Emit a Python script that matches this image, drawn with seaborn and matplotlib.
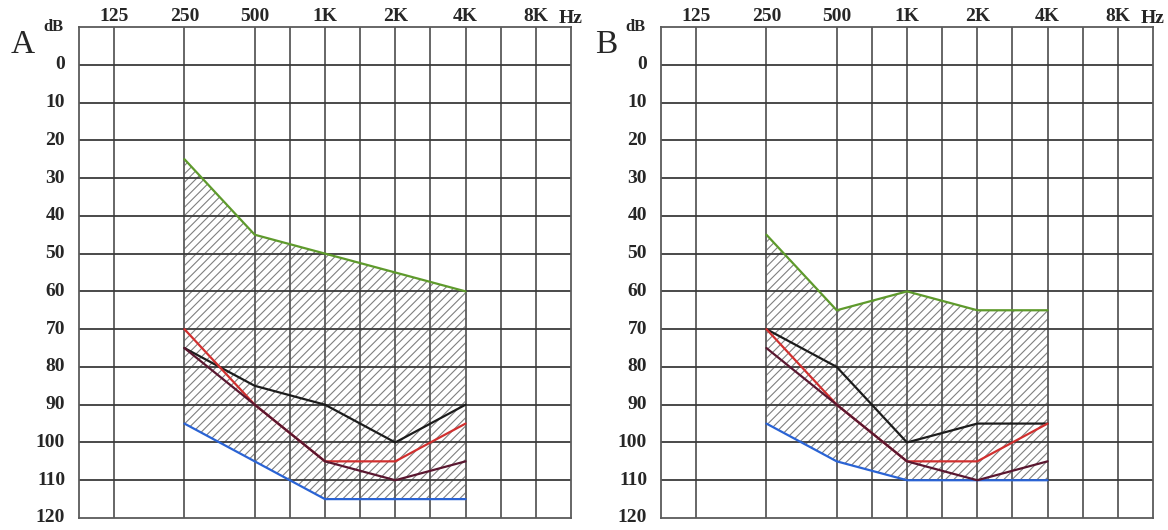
import pandas as pd
import numpy as np
import matplotlib
matplotlib.use("Agg")
import matplotlib.pyplot as plt
import seaborn as sns

# grid positions: 125 -> 1, 250 -> 3, 500 -> 5, 1K -> 7, 2K -> 9, 4K -> 11, 8K -> 13
freq_labels = ["125", "250", "500", "1K", "2K", "4K", "8K"]
freq_pos = [1, 3, 5, 7, 9, 11, 13]
db_ticks = [0, 10, 20, 30, 40, 50, 60, 70, 80, 90, 100, 110, 120]

# measured frequencies (250 .. 4K)
meas_pos = [3, 5, 7, 9, 11]

# panel A
a_green = [25, 45, 50, 55, 60]
a_blue = [95, 105, 115, 115, 115]
a_black = [75, 85, 90, 100, 90]
a_red = [70, 90, 105, 105, 95]
a_maroon = [75, 90, 105, 110, 105]

# panel B
b_green = [45, 65, 60, 65, 65]
b_blue = [95, 105, 110, 110, 110]
b_black = [70, 80, 100, 95, 95]
b_red = [70, 90, 105, 105, 95]
b_maroon = [75, 90, 105, 110, 105]

palette = {"green": "#5e9a2c", "blue": "#2a63d4", "black": "#1c1c1c",
           "red": "#d1302f", "maroon": "#5a1730"}

sns.set_style("white")
plt.rcParams["font.family"] = ["Liberation Serif", "DejaVu Serif"]
plt.rcParams["hatch.color"] = "#808080"
plt.rcParams["hatch.linewidth"] = 0.8

fig = plt.figure(figsize=(11.68, 5.30), dpi=100)
ax_a = fig.add_axes([79 / 1168, 12 / 530, 492 / 1168, 491 / 530])
ax_b = fig.add_axes([661 / 1168, 12 / 530, 492 / 1168, 491 / 530])


def draw(ax, letter, green, blue, black, red, maroon):
    # hatched region between the two limits
    ax.fill_between(meas_pos, green, blue, facecolor="none", hatch="////",
                    edgecolor="#808080", linewidth=0, zorder=1)

    # grid
    for x in [1, 3, 5, 6, 7, 8, 9, 10, 11, 12, 13]:
        ax.axvline(x, color="#5a5a5a", lw=1.3, zorder=2)
    for y in db_ticks[:-1]:
        ax.axhline(y, color="#3a3a3a", lw=1.3, zorder=2)

    df = pd.DataFrame({
        "x": meas_pos * 5,
        "db": green + blue + black + red + maroon,
        "s": ["green"] * 5 + ["blue"] * 5 + ["black"] * 5 + ["red"] * 5 + ["maroon"] * 5,
    })
    sns.lineplot(data=df, x="x", y="db", hue="s", palette=palette, sort=False,
                 lw=1.6, legend=False, ax=ax, zorder=3)

    ax.set_xlim(0, 14)
    ax.set_ylim(120, -10)
    ax.set_yticks(db_ticks)
    ax.set_yticklabels([str(t) for t in db_ticks], fontsize=14, fontweight="bold")
    for lab in ax.get_yticklabels():
        lab.set_verticalalignment("center")
    ax.xaxis.tick_top()
    ax.set_xticks(freq_pos)
    ax.set_xticklabels(freq_labels, fontsize=14, fontweight="bold")
    ax.tick_params(length=0, pad=1.5)
    ax.tick_params(axis="y", pad=10)
    ax.set_xlabel("")
    ax.set_ylabel("")
    for sp in ax.spines.values():
        sp.set_color("#5a5a5a")
        sp.set_linewidth(1.3)
        sp.set_visible(True)

    ax.text(14.0, 1.0, "Hz", transform=ax.get_xaxis_transform(), ha="center",
            va="bottom", fontsize=14, fontweight="bold")
    ax.text(-0.032, 1.0, "dB", transform=ax.transAxes, ha="right", va="center",
            fontsize=12, fontweight="bold")
    ax.text(-0.089, 0.947, letter, transform=ax.transAxes, ha="right",
            va="baseline", fontsize=24)


draw(ax_a, "A", a_green, a_blue, a_black, a_red, a_maroon)
draw(ax_b, "B", b_green, b_blue, b_black, b_red, b_maroon)

fig.savefig("out.png", dpi=100)
